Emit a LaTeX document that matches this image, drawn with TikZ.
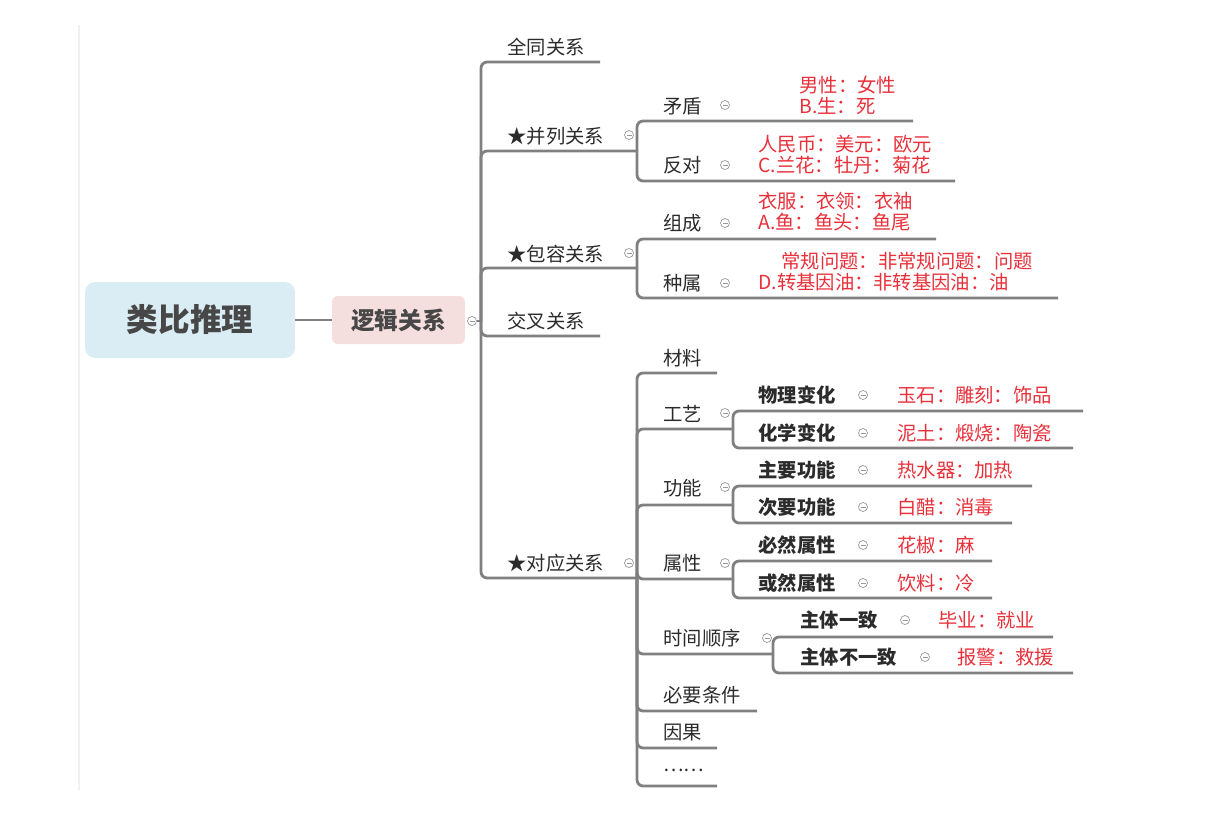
\documentclass[tikz,border=0pt]{standalone}
\usepackage{fontspec}
\setmainfont{Noto Sans CJK SC}
\usepackage{xcolor}
\usepackage{tikz}
\definecolor{ink}{HTML}{2B2B2B}
\definecolor{redtxt}{HTML}{E8303A}
\definecolor{linegray}{HTML}{808080}
\definecolor{rootblue}{HTML}{DAEDF5}
\definecolor{logicpink}{HTML}{F5DFDE}

\begin{document}
\begin{tikzpicture}[x=0.02cm,y=-0.02cm,
    every node/.style={font=\fontsize{11}{12}\selectfont,text=ink},
    rootbox/.style={fill=rootblue,rounded corners=0.2cm,minimum width=4.2cm,
                    minimum height=1.52cm,font=\fontsize{18}{20}\selectfont\bfseries,text=black!72},
    logicbox/.style={fill=logicpink,rounded corners=0.12cm,minimum width=2.66cm,
                     minimum height=0.96cm,font=\fontsize{13.5}{15}\selectfont\bfseries,text=black!72},
    topic/.style={anchor=west,inner sep=0pt},
    subtopic/.style={anchor=west,inner sep=0pt,font=\fontsize{11}{12}\selectfont\bfseries},
    detail/.style={anchor=west,inner sep=0pt,align=left,text=redtxt},
    fold/.style={circle,draw=black!40,line width=0.4pt,minimum size=0.18cm,inner sep=0pt,
                 path picture={\draw[black!40,line width=0.4pt]
                   ([xshift=-0.05cm]path picture bounding box.center) --
                   ([xshift=0.05cm]path picture bounding box.center);}},
    branch/.style={draw=linegray,line width=1.6pt,rounded corners=3.5pt},
  ]
  \useasboundingbox (0,0) rectangle (1220,812);
  \draw[black!6,line width=0.8pt] (79,25) -- (79,790);

  % root
  \node[rootbox] (root) at (190,320) {类比推理};
  \node[logicbox] (logic) at (398.5,320) {逻辑关系};
  \node[fold] (logic-f) at (472,321) {};
  \coordinate (logic-j) at (481,321);
  \draw[branch] (root) -- (logic);
  \draw[branch] (logic-f) -- (logic-j);

  % first level
  \node[topic] (quantong) at (507,47) {全同关系};
  \coordinate (quantong-e) at (600,62);
  \node[topic] (binglie) at (507,136) {★并列关系};
  \node[fold] (binglie-f) at (629,135) {};
  \coordinate (binglie-e) at (637,151);
  \node[topic] (baorong) at (507,254) {★包容关系};
  \node[fold] (baorong-f) at (629,253) {};
  \coordinate (baorong-e) at (637,268);
  \node[topic] (jiaocha) at (507,321) {交叉关系};
  \coordinate (jiaocha-e) at (600,336);
  \node[topic] (duiying) at (507,563) {★对应关系};
  \node[fold] (duiying-f) at (629,563) {};
  \coordinate (duiying-e) at (637,578);
  \draw[branch] (logic-j) |- (quantong-e);
  \draw[branch] (logic-j) |- (binglie-e);
  \draw[branch] (logic-j) |- (baorong-e);
  \draw[branch] (logic-j) |- (jiaocha-e);
  \draw[branch] (logic-j) |- (duiying-e);

  % binglie
  \node[topic] (maodun) at (663,106) {矛盾};
  \node[fold] (maodun-f) at (725,105) {};
  \node[detail] (maodun-d) at (799,95.5) {男性：女性\\B.生：死};
  \coordinate (maodun-e) at (913,121);
  \node[topic] (fandui) at (663,165) {反对};
  \node[fold] (fandui-f) at (725,165) {};
  \node[detail] (fandui-d) at (758,154.5) {人民币：美元：欧元\\C.兰花：牡丹：菊花};
  \coordinate (fandui-e) at (955,181);
  \draw[branch] (binglie-e) |- (maodun-e);
  \draw[branch] (binglie-e) |- (fandui-e);

  % baorong
  \node[topic] (zucheng) at (663,223) {组成};
  \node[fold] (zucheng-f) at (725,223) {};
  \node[detail] (zucheng-d) at (758,212) {衣服：衣领：衣袖\\A.鱼：鱼头：鱼尾};
  \coordinate (zucheng-e) at (936,239);
  \node[topic] (zhongshu) at (663,283) {种属};
  \node[fold] (zhongshu-f) at (725,283) {};
  \node[detail] (zhongshu-d) at (758,272) {\hspace*{1.2em}常规问题：非常规问题：问题\\D.转基因油：非转基因油：油};
  \coordinate (zhongshu-e) at (1058,298);
  \draw[branch] (baorong-e) |- (zucheng-e);
  \draw[branch] (baorong-e) |- (zhongshu-e);

  % duiying
  \node[topic] (cailiao) at (663,358) {材料};
  \coordinate (cailiao-e) at (717,373);
  \node[topic] (gongyi) at (663,414) {工艺};
  \node[fold] (gongyi-f) at (725,413) {};
  \coordinate (gongyi-e) at (733,429);
  \node[topic] (gongneng) at (663,488) {功能};
  \node[fold] (gongneng-f) at (725,487) {};
  \coordinate (gongneng-e) at (733,505);
  \node[topic] (shuxing) at (663,563) {属性};
  \node[fold] (shuxing-f) at (725,563) {};
  \coordinate (shuxing-e) at (733,579);
  \node[topic] (shijian) at (663,638) {时间顺序};
  \node[fold] (shijian-f) at (767,638) {};
  \coordinate (shijian-e) at (773,654);
  \node[topic] (biyao) at (663,695) {必要条件};
  \coordinate (biyao-e) at (757,711);
  \node[topic] (yinguo) at (663,733) {因果};
  \coordinate (yinguo-e) at (717,748);
  \node[topic] (more) at (663,770) {……};
  \coordinate (more-e) at (717,786);
  \draw[branch] (duiying-e) |- (cailiao-e);
  \draw[branch] (duiying-e) |- (gongyi-e);
  \draw[branch] (duiying-e) |- (gongneng-e);
  \draw[branch] (duiying-e) |- (shuxing-e);
  \draw[branch] (duiying-e) |- (shijian-e);
  \draw[branch] (duiying-e) |- (biyao-e);
  \draw[branch] (duiying-e) |- (yinguo-e);
  \draw[branch] (duiying-e) |- (more-e);

  % gongyi
  \node[subtopic] (wuli) at (758,395) {物理变化};
  \node[fold] (wuli-f) at (863,395) {};
  \node[detail] (wuli-d) at (897,395) {玉石：雕刻：饰品};
  \coordinate (wuli-e) at (1083,411);
  \node[subtopic] (huaxue) at (758,433) {化学变化};
  \node[fold] (huaxue-f) at (863,433) {};
  \node[detail] (huaxue-d) at (897,433) {泥土：煅烧：陶瓷};
  \coordinate (huaxue-e) at (1073,448);
  \draw[branch] (gongyi-e) |- (wuli-e);
  \draw[branch] (gongyi-e) |- (huaxue-e);

  % gongneng
  \node[subtopic] (zhuyao) at (758,470) {主要功能};
  \node[fold] (zhuyao-f) at (863,470) {};
  \node[detail] (zhuyao-d) at (897,470) {热水器：加热};
  \coordinate (zhuyao-e) at (1032,486);
  \node[subtopic] (ciyao) at (758,507) {次要功能};
  \node[fold] (ciyao-f) at (863,507) {};
  \node[detail] (ciyao-d) at (897,507) {白醋：消毒};
  \coordinate (ciyao-e) at (1012,523);
  \draw[branch] (gongneng-e) |- (zhuyao-e);
  \draw[branch] (gongneng-e) |- (ciyao-e);

  % shuxing
  \node[subtopic] (biran) at (758,545) {必然属性};
  \node[fold] (biran-f) at (863,545) {};
  \node[detail] (biran-d) at (897,545) {花椒：麻};
  \coordinate (biran-e) at (992,561);
  \node[subtopic] (huoran) at (758,583) {或然属性};
  \node[fold] (huoran-f) at (863,583) {};
  \node[detail] (huoran-d) at (897,583) {饮料：冷};
  \coordinate (huoran-e) at (992,598);
  \draw[branch] (shuxing-e) |- (biran-e);
  \draw[branch] (shuxing-e) |- (huoran-e);

  % shijian
  \node[subtopic] (yizhi) at (800,620) {主体一致};
  \node[fold] (yizhi-f) at (905,620) {};
  \node[detail] (yizhi-d) at (938,620) {毕业：就业};
  \coordinate (yizhi-e) at (1053,637);
  \node[subtopic] (buyizhi) at (800,657) {主体不一致};
  \node[fold] (buyizhi-f) at (925,657) {};
  \node[detail] (buyizhi-d) at (957,657) {报警：救援};
  \coordinate (buyizhi-e) at (1073,673);
  \draw[branch] (shijian-e) |- (yizhi-e);
  \draw[branch] (shijian-e) |- (buyizhi-e);
\end{tikzpicture}
\end{document}
